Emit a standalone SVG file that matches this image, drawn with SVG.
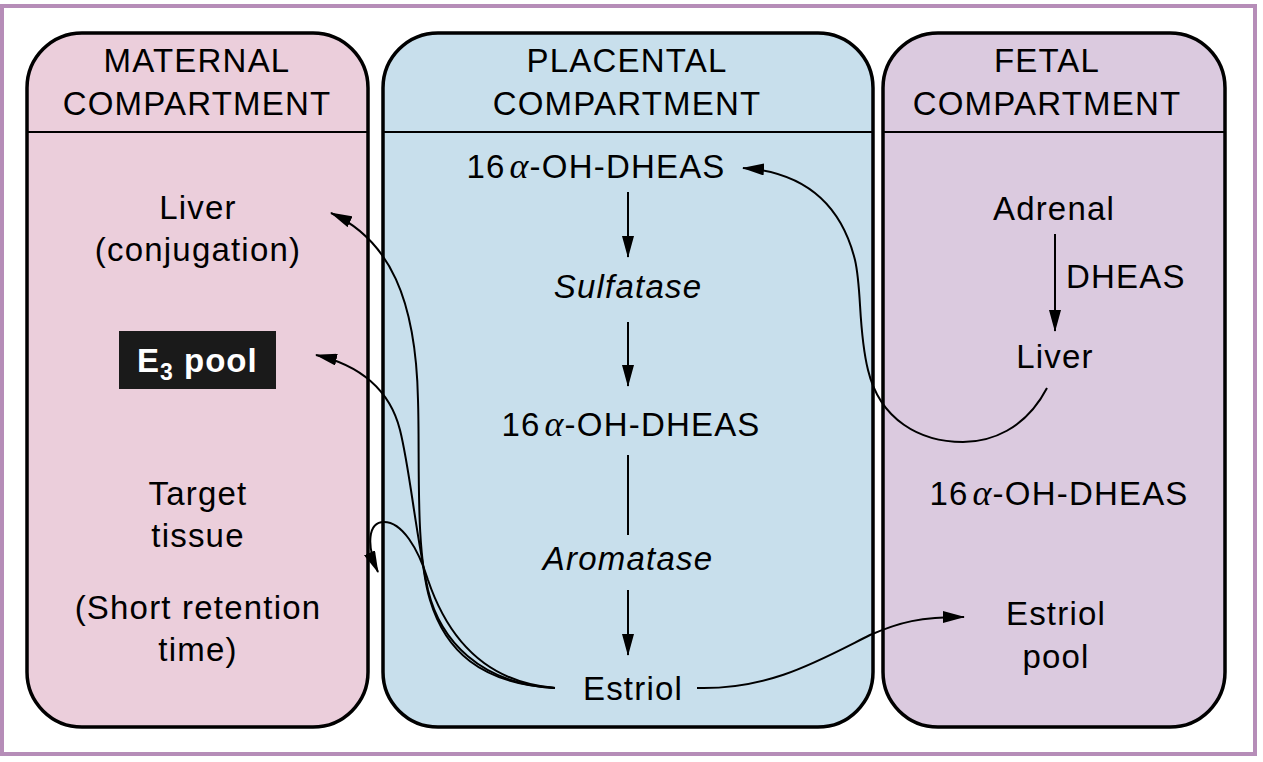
<svg xmlns="http://www.w3.org/2000/svg" width="1263" height="762" viewBox="0 0 1263 762">
<style>
.box{stroke:#000;stroke-width:3.5}
.div{stroke:#000;stroke-width:2}
.hd{font-family:"Liberation Sans",Arial,sans-serif;font-size:33px;letter-spacing:1.2px;fill:#000;text-anchor:middle}
.t{font-family:"Liberation Sans",Arial,sans-serif;font-size:33px;letter-spacing:1.2px;fill:#000;text-anchor:middle}
.it{font-style:italic}
.al{font-family:"Liberation Serif","DejaVu Serif",serif;font-style:italic;font-size:36px}
.c{fill:none;stroke:#000;stroke-width:2}
</style>
<defs>
<marker id="ah" viewBox="0 0 22 12" refX="21" refY="6" markerWidth="22" markerHeight="12" markerUnits="userSpaceOnUse" orient="auto">
<path d="M0,0 L22,6 L0,12 Z" fill="#000"/>
</marker>
</defs>
<rect x="2" y="6" width="1253" height="748" fill="#fff" stroke="#b68db8" stroke-width="4"/>

<g id="maternal">
<rect class="box" x="27" y="33" width="341" height="694" rx="55" ry="55" fill="#ebcedb"/>
<line class="div" x1="27" y1="132" x2="368" y2="132"/>
<text class="hd" x="197" y="72">MATERNAL</text>
<text class="hd" x="197" y="115">COMPARTMENT</text>
</g>
<g id="placental">
<rect class="box" x="383" y="33" width="490" height="694" rx="55" ry="55" fill="#c8dfec"/>
<line class="div" x1="383" y1="132" x2="873" y2="132"/>
<text class="hd" x="627" y="72">PLACENTAL</text>
<text class="hd" x="627" y="115">COMPARTMENT</text>
</g>
<g id="fetal">
<rect class="box" x="883" y="33" width="342" height="694" rx="55" ry="55" fill="#dbcadf"/>
<line class="div" x1="883" y1="132" x2="1225" y2="132"/>
<text class="hd" x="1047" y="72">FETAL</text>
<text class="hd" x="1047" y="115">COMPARTMENT</text>
</g>

<g id="m-liver"><text class="t" x="198" y="219">Liver</text><text class="t" x="198" y="261">(conjugation)</text></g>
<g id="m-e3pool">
<rect x="119" y="331" width="157" height="58" fill="#1a1a1a"/>
<text x="137" y="372" font-family="Liberation Sans,Arial,sans-serif" font-size="33" letter-spacing="1" font-weight="bold" fill="#fff">E<tspan font-size="23" dy="8">3</tspan><tspan dy="-8"> pool</tspan></text>
</g>
<g id="m-target"><text class="t" x="198" y="505">Target</text><text class="t" x="198" y="547">tissue</text></g>
<g id="m-short"><text class="t" x="198" y="619">(Short retention</text><text class="t" x="198" y="661">time)</text></g>

<g id="p-dheas1"><text class="t" x="596" y="178">16<tspan class="al" dx="4">α</tspan>-OH-DHEAS</text></g>
<g id="p-sulfatase"><text class="t it" x="628" y="298">Sulfatase</text></g>
<g id="p-dheas2"><text class="t" x="631" y="436">16<tspan class="al" dx="4">α</tspan>-OH-DHEAS</text></g>
<g id="p-aromatase"><text class="t it" x="628" y="570">Aromatase</text></g>
<g id="p-estriol"><text class="t" x="633" y="700">Estriol</text></g>

<g id="f-adrenal"><text class="t" x="1054" y="220">Adrenal</text></g>
<g id="f-dheas-label"><text class="t" x="1066" y="288" style="text-anchor:start">DHEAS</text></g>
<g id="f-liver"><text class="t" x="1055" y="368">Liver</text></g>
<g id="f-dheas"><text class="t" x="1059" y="505">16<tspan class="al" dx="4">α</tspan>-OH-DHEAS</text></g>
<g id="f-estriolpool"><text class="t" x="1056" y="625">Estriol</text><text class="t" x="1056" y="668">pool</text></g>

<g id="connectors">
<line class="c" x1="628" y1="192" x2="628" y2="257" marker-end="url(#ah)"/>
<line class="c" x1="628" y1="322" x2="628" y2="386" marker-end="url(#ah)"/>
<line class="c" x1="628" y1="455" x2="628" y2="535"/>
<line class="c" x1="628" y1="590" x2="628" y2="655" marker-end="url(#ah)"/>
<line class="c" x1="1055" y1="234" x2="1055" y2="331" marker-end="url(#ah)"/>
<path class="c" d="M1047,388 C1025,430 990,442 963,442 C920,442 880,420 868,370 C858,330 862,290 855,260 C840,200 800,172 743,168" marker-end="url(#ah)"/>
<path class="c" d="M697,688 C770,690 820,660 870,635 C900,622 920,617 964,617" marker-end="url(#ah)"/>
<path class="c" d="M555,688 C480,684 445,650 430,600 C415,550 420,460 418,400 C416,300 390,240 331,213" marker-end="url(#ah)"/>
<path class="c" d="M555,688 C480,684 440,640 428,590 C415,530 410,470 400,430 C390,390 360,365 316,355" marker-end="url(#ah)"/>
<path class="c" d="M555,688 C480,682 445,630 428,580 C418,548 402,522 384,522 C368,522 366,545 378,572" marker-end="url(#ah)"/>
</g>
</svg>
